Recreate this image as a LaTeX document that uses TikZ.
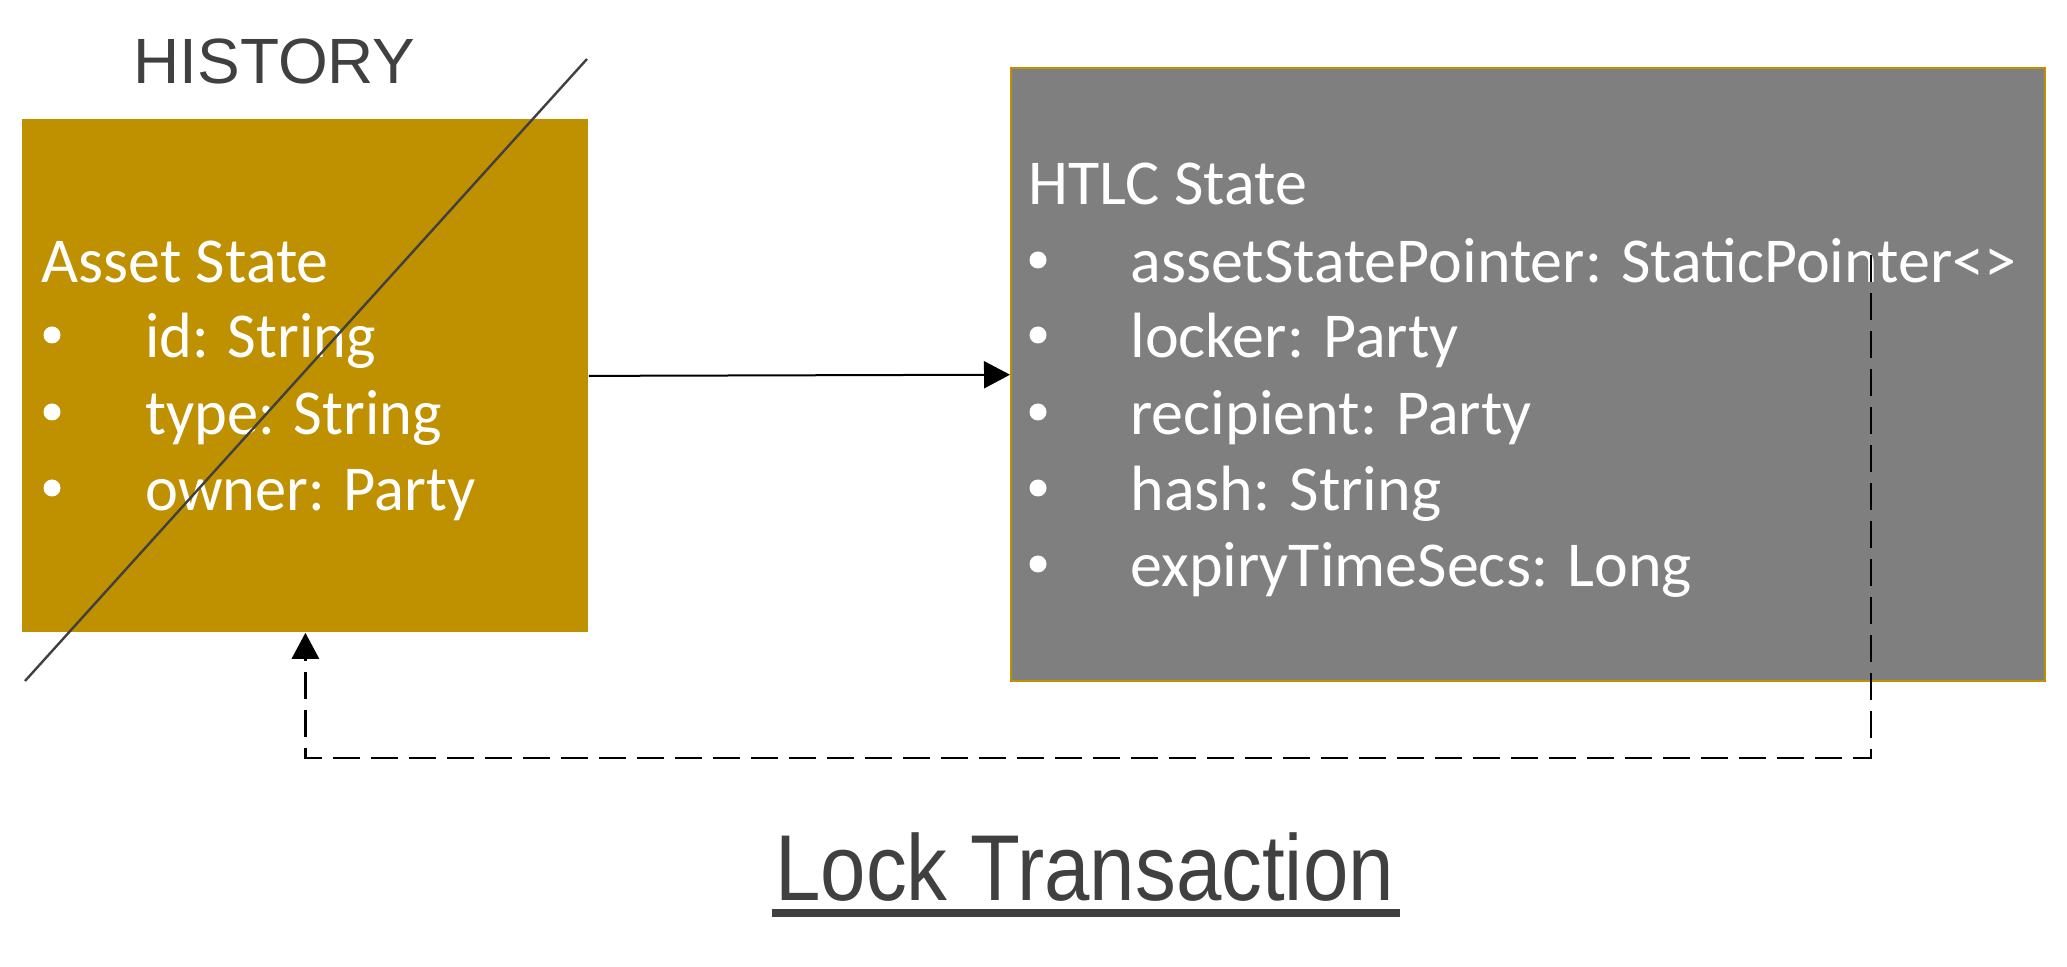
\documentclass[tikz,border=0pt]{standalone}
\usepackage{fontspec}
\setmainfont{Carlito}
\newfontfamily\arialfont{Liberation Sans}
\usetikzlibrary{arrows.meta,calc}
\definecolor{gold}{HTML}{BF9000}
\definecolor{boxgray}{HTML}{7F7F7F}
\definecolor{darktxt}{HTML}{404040}
\tikzset{
  boxtxt/.style={font=\fontsize{32}{38}\selectfont, text=white, inner sep=0pt, anchor=base west},
  bul/.style={circle, fill=white, inner sep=0pt, minimum size=8.5pt},
  assetbox/.style={fill=gold, draw=none, anchor=north west, inner sep=0pt},
  htlcbox/.style={fill=boxgray, draw=gold, line width=1.2pt, anchor=north west, inner sep=0pt},
  tip/.style={-{Triangle[length=13pt,width=13.5pt]}},
  conn/.style={tip, line width=1pt, black},
  dconn/.style={tip, line width=1.4pt, black, dash pattern=on 13.5pt off 5.5pt},
  strike/.style={line width=1.2pt, draw=darktxt},
  title/.style={font=\arialfont\fontsize{32}{38}\selectfont, text=darktxt, inner sep=0pt, anchor=base west},
}
\begin{document}
\begin{tikzpicture}[x=0.5pt,y=-0.5pt]
\useasboundingbox (0,0) rectangle (2067,967);
% boxes
\node[assetbox, minimum width=283pt, minimum height=256.5pt] (asset) at (22,119) {};
\node[htlcbox, minimum width=517pt, minimum height=306.5pt] (htlc) at (1010,67) {};
% HISTORY
\node[title] (hist) at (133,84) {HISTORY};
% asset text
\node[boxtxt] (at) at (41,283) {Asset State};
\node[bul] (ab1) at (52,335) {};
\node[boxtxt] (a1) at (145,358) {\scalebox{0.975}[1]{id: String}};
\node[bul] (ab2) at (52,412) {};
\node[boxtxt] (a2) at (145,435) {\scalebox{0.975}[1]{type: String}};
\node[bul] (ab3) at (52,488) {};
\node[boxtxt] (a3) at (145,511) {\scalebox{0.975}[1]{owner: Party}};
% htlc text
\node[boxtxt] (ht) at (1028,205) {HTLC State};
\node[bul] (hb1) at (1038,260) {};
\node[boxtxt] (h1) at (1130,283) {assetStatePointer: StaticPointer<>};
\node[bul] (hb2) at (1038,335) {};
\node[boxtxt] (h2) at (1130,358) {locker: Party};
\node[bul] (hb3) at (1038,412) {};
\node[boxtxt] (h3) at (1130,435) {recipient: Party};
\node[bul] (hb4) at (1038,488) {};
\node[boxtxt] (h4) at (1130,511) {hash: String};
\node[bul] (hb5) at (1038,564) {};
\node[boxtxt] (h5) at (1130,587) {expiryTimeSecs: Long};
% strike line
\coordinate (d1) at (25,681);
\coordinate (d2) at (587,59);
\draw[strike] (d1) -- (d2);
% connectors
\draw[conn] (asset.east) -- (htlc.west);
\coordinate (ptr) at (1871,255);
\coordinate (low) at (0,758);
\draw[dconn] (ptr) -- (ptr |- low) -- (asset.south |- low) -- (asset.south);
% bottom title
\node[font=\arialfont\fontsize{46.8}{56}\selectfont, text=darktxt, inner sep=0pt, anchor=base west] (lt) at (775,900) {\scalebox{0.872}[1]{Lock Transaction}};
\draw[draw=darktxt, line width=3.6pt] ($(lt.base west)+(-3,13)$) -- ($(lt.base east)+(6,13)$);
\end{tikzpicture}
\end{document}
